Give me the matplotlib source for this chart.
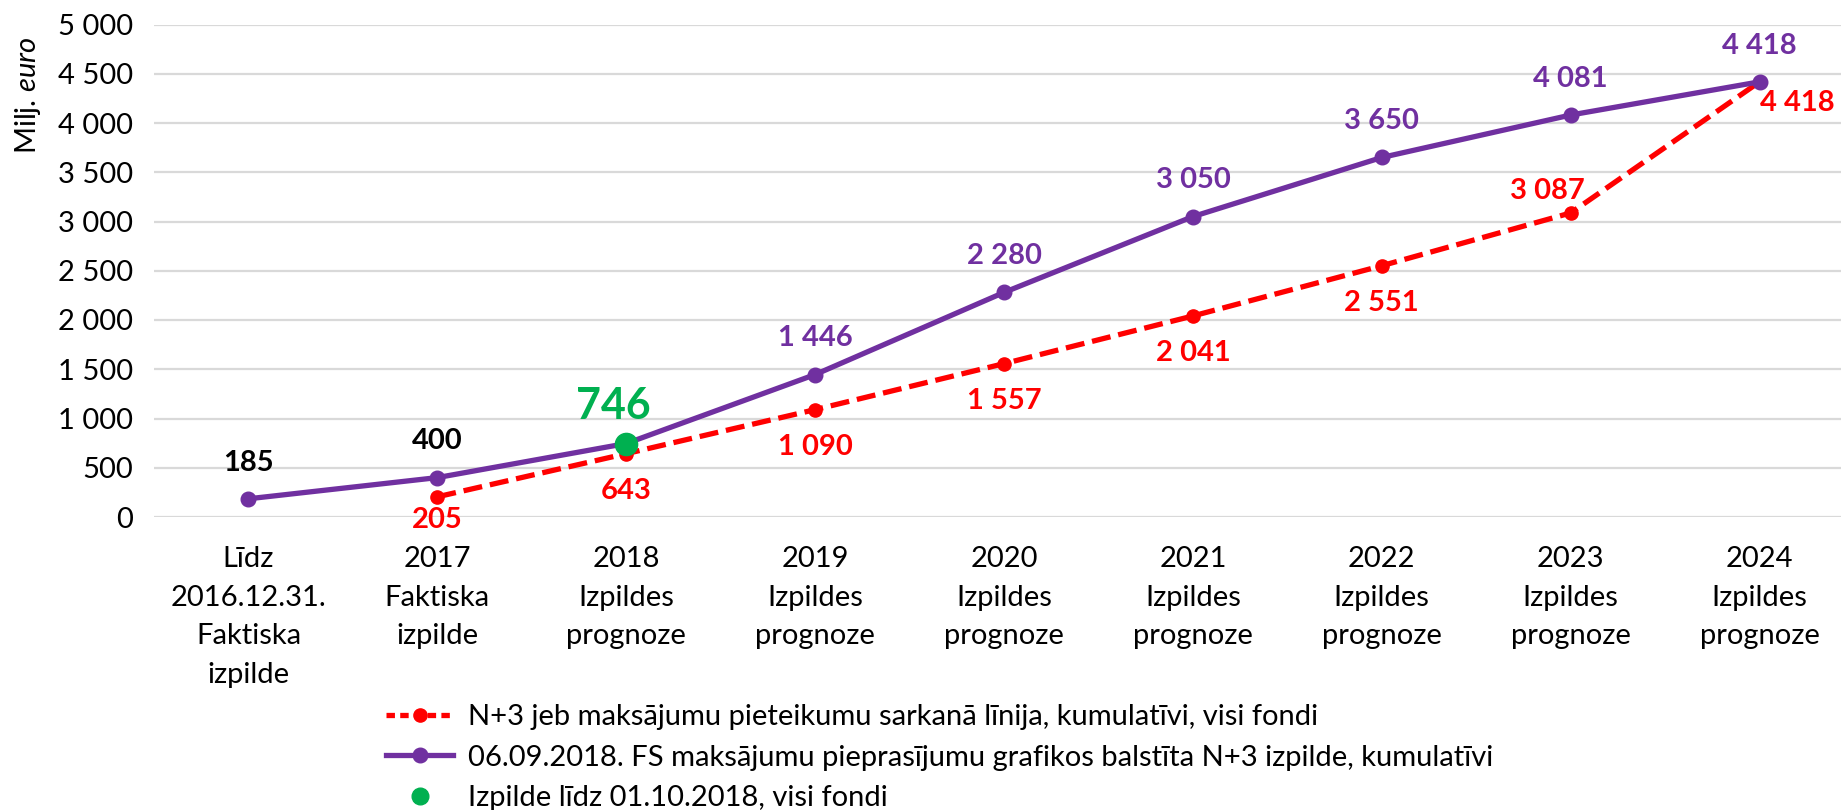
import matplotlib
matplotlib.use("Agg")
import matplotlib.pyplot as plt
from matplotlib.lines import Line2D
import numpy as np

plt.rcParams['font.family'] = ['Lato', 'DejaVu Sans']
plt.rcParams['mathtext.fontset'] = 'custom'
plt.rcParams['mathtext.rm'] = 'Lato'
plt.rcParams['mathtext.it'] = 'Lato:italic'

categories = ["Līdz\n2016.12.31.\nFaktiska\nizpilde", "2017\nFaktiska\nizpilde",
              "2018\nIzpildes\nprognoze", "2019\nIzpildes\nprognoze", "2020\nIzpildes\nprognoze",
              "2021\nIzpildes\nprognoze", "2022\nIzpildes\nprognoze", "2023\nIzpildes\nprognoze",
              "2024\nIzpildes\nprognoze"]
purple_vals = [185, 400, 746, 1446, 2280, 3050, 3650, 4081, 4418]
red_vals = [np.nan, 205, 643, 1090, 1557, 2041, 2551, 3087, 4418]
green_idx = 2
green_val = 746
yticks = [0, 500, 1000, 1500, 2000, 2500, 3000, 3500, 4000, 4500, 5000]

legend_labels = ["N+3 jeb maksājumu pieteikumu sarkanā līnija, kumulatīvi, visi fondi",
                 "06.09.2018. FS maksājumu pieprasījumu grafikos balstīta N+3 izpilde, kumulatīvi",
                 "Izpilde līdz 01.10.2018, visi fondi"]

PURPLE = "#7030A0"
RED = "#FF0000"
GREEN = "#00B050"
FS = 21

W, H = 1841, 810
fig = plt.figure(figsize=(W/100, H/100), dpi=100)
left, right, top, bottom = 154, 1854, 24.5, 517
ax = fig.add_axes([left/W, 1-bottom/H, (right-left)/W, (bottom-top)/H])

x = np.arange(len(categories))
ax.set_xlim(-0.5, len(categories)-0.5)
ax.set_ylim(0, 5000)
for s in ax.spines.values():
    s.set_visible(False)
ax.set_yticks(yticks)
ax.set_yticklabels([f"{v:,}".replace(",", " ") for v in yticks])
ax.yaxis.grid(True, color="#d9d9d9", linewidth=1.6)
ax.set_axisbelow(True)
ax.tick_params(axis='y', length=0, pad=15, labelsize=FS)
ax.set_xticks(x)
ax.set_xticklabels(categories, linespacing=1.6)
ax.tick_params(axis='x', length=0, pad=21, labelsize=FS)

lr, = ax.plot(x, red_vals, color=RED, lw=3.8, dashes=(3.6, 1.5), marker='o', ms=9.5,
              dash_capstyle='butt', zorder=3)
lp, = ax.plot(x, purple_vals, color=PURPLE, lw=3.8, marker='o', ms=10.5, zorder=4)
lg, = ax.plot([x[green_idx]], [green_val], linestyle='none', marker='o', ms=16, color=GREEN, zorder=5)

fmt = lambda v: f"{int(v):,}".replace(",", " ")

# purple labels
for i, v in enumerate(purple_vals):
    if i == green_idx:
        continue
    col = 'black' if i < 2 else PURPLE
    ax.annotate(fmt(v), (x[i], v), xytext=(0, 26), textcoords='offset points',
                ha='center', va='center', fontsize=FS, fontweight='bold', color=col)

# red labels
red_offsets = {1: (0, -17), 7: (-17, 16), 8: (27, -15)}
for i, v in enumerate(red_vals):
    if np.isnan(v):
        continue
    off = red_offsets.get(i, (0, -27))
    ax.annotate(fmt(v), (x[i], v), xytext=off, textcoords='offset points',
                ha='center', va='center', fontsize=FS, fontweight='bold', color=RED)

ax.annotate(fmt(green_val), (x[green_idx], green_val), xytext=(-9, 27), textcoords='offset points',
            ha='center', va='center', fontsize=31, fontweight='bold', color=GREEN)

fig.text(28/W, 1-95/H, r"Milj. $\mathit{euro}$", rotation=90, ha='center', va='center', fontsize=FS)

hr = Line2D([], [], color=RED, lw=3.8, dashes=(1.6, 1.0), marker='o', ms=9.5)
hp = Line2D([], [], color=PURPLE, lw=3.8, marker='o', ms=10.5)
hg = Line2D([], [], linestyle='none', marker='o', ms=12, color=GREEN)
fig.legend([hr, hp, hg], legend_labels, loc='upper left', bbox_to_anchor=(386/W, 1-704/H),
           frameon=False, fontsize=FS, handlelength=2.3, handletextpad=0.5, labelspacing=0.5,
           borderpad=0, borderaxespad=0)

fig.savefig("out.png", dpi=100)
